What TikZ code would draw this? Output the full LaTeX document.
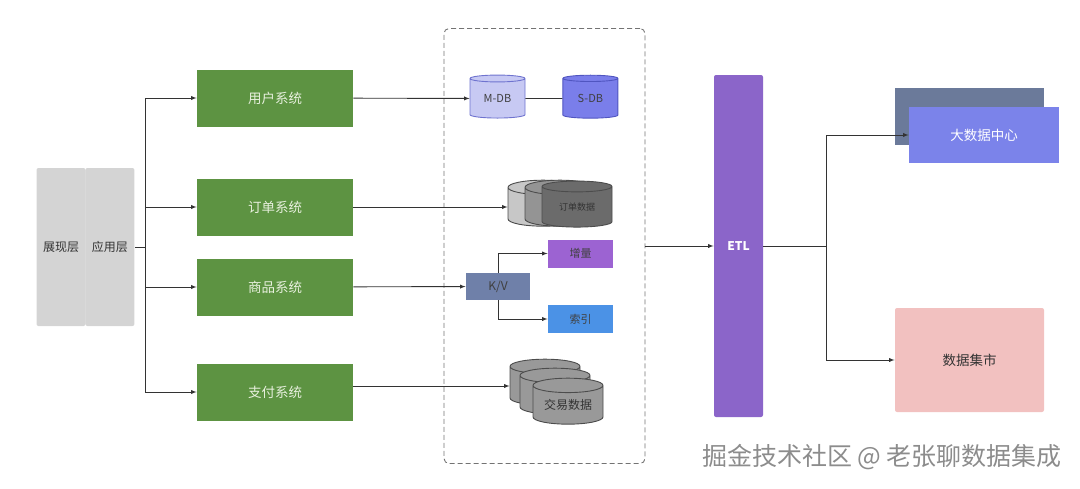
\documentclass[tikz,border=0pt]{standalone}
\usepackage{fontspec}
\setmainfont{Noto Sans CJK SC}
\usepackage{tikz}
\usetikzlibrary{arrows,shapes,positioning}

\definecolor{laygray}{RGB}{212,212,212}
\definecolor{sysgreen}{RGB}{93,147,66}
\definecolor{systext}{RGB}{232,240,222}
\definecolor{mdbfill}{RGB}{199,201,243}
\definecolor{mdbline}{RGB}{111,115,207}
\definecolor{sdbfill}{RGB}{122,126,234}
\definecolor{sdbline}{RGB}{80,85,192}
\definecolor{kvblue}{RGB}{111,128,169}
\definecolor{zlpurple}{RGB}{156,99,210}
\definecolor{syblue}{RGB}{75,146,230}
\definecolor{etlpurple}{RGB}{139,101,201}
\definecolor{bdback}{RGB}{107,122,154}
\definecolor{bdfront}{RGB}{123,131,234}
\definecolor{jspink}{RGB}{242,193,192}

\begin{document}
\begin{tikzpicture}[x=1pt,y=-1pt,>=latex,line width=0.9pt,color=black!80,
    every node/.style={font=\fontsize{12}{14}\selectfont},
    layer/.style={fill=laygray,rounded corners=2pt,minimum width=49,minimum height=158,inner sep=0},
    sys/.style={fill=sysgreen,text=systext,minimum width=156,minimum height=57,font=\fontsize{13.5}{15}\selectfont},
    db/.style={cylinder,shape border rotate=90,aspect=0.25,draw,minimum width=55,minimum height=43,inner sep=0,font=\fontsize{11}{13}\selectfont},
    stack/.style={cylinder,shape border rotate=90,aspect=0.3,draw=black!70,minimum width=70,minimum height=46,inner sep=0},
    small/.style={minimum width=65,minimum height=28,inner sep=0,text=black!75,font=\fontsize{11}{13}\selectfont}]
    \useasboundingbox (0,0) rectangle (1080,488);

    % left layers
    \node[layer] (zx) at (61,247) {展现层};
    \node[layer, right=-1pt of zx] (yy) {应用层};

    % systems
    \node[sys] (yh) at (275,98) {用户系统};
    \node[sys] (dd) at (275,207) {订单系统};
    \node[sys] (sp) at (275,287) {商品系统};
    \node[sys] (zf) at (275,392) {支付系统};

    \coordinate (b0) at (145,247);
    \coordinate (b1) at (145,98);
    \coordinate (b2) at (145,207);
    \coordinate (b3) at (145,287);
    \coordinate (b4) at (145,392);
    \draw (yy.east) -- (b0);
    \draw (b1) -- (b4);
    \draw[->] (b1) -- (yh);
    \draw[->] (b2) -- (dd);
    \draw[->] (b3) -- (sp);
    \draw[->] (b4) -- (zf);

    % storage
    \node[draw=black!55,dashed,dash pattern=on 5pt off 3pt,rounded corners=5pt,minimum width=201,minimum height=435] (store) at (544.5,246) {};

    \node[db,fill=mdbfill,draw=mdbline,text=black!75] (mdb) at (497.5,98.5) {M-DB};
    \node[db,fill=sdbfill,draw=sdbline,text=black!75, right=37 of mdb] (sdb) {S-DB};
    \draw[->] (yh) -- (mdb);
    \draw (mdb) -- (sdb);

    \node[stack,fill=black!22] (od1) at (543,207) {\phantom{订单数据}};
    \node[stack,fill=black!42] (od2) at (560,207) {\phantom{订单数据}};
    \node[stack,fill=black!58,text=black!80,font=\fontsize{9}{11}\selectfont] (od3) at (577,207) {订单数据};
    \draw[->] (dd) -- (od1);

    \node[fill=kvblue,minimum width=64,minimum height=27,inner sep=0,text=black!75] (kv) at (498,286.5) {K/V};
    \node[small,fill=zlpurple] (zl) at (580.5,253.5) {增量};
    \node[small,fill=syblue] (sy) at (580.5,319) {索引};
    \draw[->] (sp) -- (kv);
    \draw[->] (kv.north) |- (zl.west);
    \draw[->] (kv.south) |- (sy.west);

    \node[stack,fill=black!40] (jy1) at (545,386) {\phantom{交易数据}};
    \node[stack,fill=black!40] (jy2) at (555,395) {\phantom{交易数据}};
    \node[stack,fill=black!40,font=\fontsize{12}{14}\selectfont] (jy3) at (568,405) {交易数据};
    \draw[->] (zf.east |- jy1.west) -- (jy1.west);

    % etl and targets
    \node[fill=etlpurple,rounded corners=2pt,minimum width=49,minimum height=342,inner sep=0,text=white,font=\fontsize{12}{14}\selectfont\bfseries] (etl) at (738.5,246) {ETL};
    \draw[->] (store) -- (etl);

    \node[fill=bdback,minimum width=149,minimum height=57] (bd0) at (969.5,116.5) {};
    \node[fill=bdfront,minimum width=150,minimum height=56,text=white,font=\fontsize{13.5}{15}\selectfont] (bd) at (984,135) {大数据中心};
    \node[fill=jspink,rounded corners=2pt,minimum width=149,minimum height=104,text=black!80,font=\fontsize{13.5}{15}\selectfont] (js) at (969.5,360) {数据集市};

    \coordinate (fk) at (826,246);
    \draw (etl) -- (fk);
    \draw[->] (fk) |- (bd.west);
    \draw[->] (fk) |- (js.west);

    \node[text=black!45,font=\fontsize{25}{28}\selectfont] (mark) at (882,457) {掘金技术社区 @ 老张聊数据集成};
\end{tikzpicture}
\end{document}
